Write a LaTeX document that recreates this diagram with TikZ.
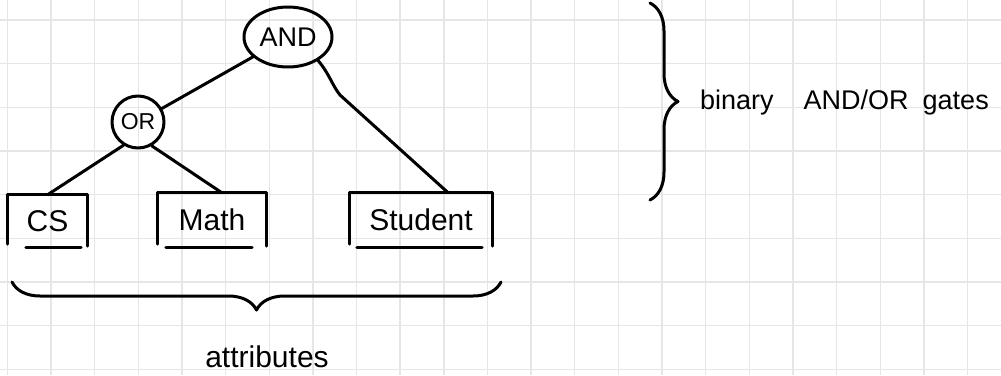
\documentclass[tikz,border=0pt]{standalone}
\usepackage{fontspec}
\setmainfont{Liberation Sans}
\usetikzlibrary{decorations.pathreplacing,calc,shapes.geometric}
\definecolor{gridgray}{HTML}{E6E6E6}
\begin{document}
\begin{tikzpicture}[x=1pt,y=-1pt,
  ink/.style={line width=3pt,line cap=round,line join=round,draw=black},
  gridline/.style={draw=gridgray,line width=1.4pt},
  gateE/.style={ink,ellipse,inner sep=0pt},
  gateC/.style={ink,circle,inner sep=0pt},
  attr/.style={rectangle,inner sep=0pt,font=\fontsize{30}{30}\selectfont},
  lbl/.style={inner sep=0pt,font=\fontsize{30}{30}\selectfont},
  handbrace/.style={ink,decorate,decoration={brace,amplitude=#1}}
]
\fill[white] (0,0) rectangle (1001,375);
\useasboundingbox (0,0) rectangle (1001,375);
% grid
\foreach \k in {0,...,22} \draw[gridline] ({7.3+43.65*\k},0) -- ({7.3+43.65*\k},375);
\foreach \k in {0,...,8} \draw[gridline] (0,{20+43.65*\k}) -- (1001,{20+43.65*\k});

% gates
\node[gateE,minimum width=88,minimum height=60,font=\fontsize{27}{27}\selectfont] (and) at (288,37) {AND};
\node[gateC,minimum size=52,font=\fontsize{23}{23}\selectfont] (or) at (138,122) {OR};

% attributes
\node[attr,minimum width=79,minimum height=52] (cs) at (47.5,221) {CS};
\node[attr,minimum width=108,minimum height=54] (math) at (212,220) {Math};
\node[attr,minimum width=142,minimum height=54] (student) at (421,220) {Student};
\foreach \n/\l/\r in {cs/18/6,math/8/14,student/7/10}{
  \draw[ink] ($(\n.south west)+(0,-3)$) -- (\n.north west) -- (\n.north east) -- ($(\n.south east)+(0,-1)$);
  \draw[ink] ($(\n.south west)+(\l,0)$) -- ($(\n.south east)+(-\r,0)$);
}

% connectors
\draw[ink] (and) -- (or);
\draw[ink] (and.-38) .. controls (330,75) and (332,85) .. (340,95) -- (student.45);
\draw[ink] (or.238) -- (cs.north);
\draw[ink] (or.-60) -- (math.70);

% braces
\coordinate (bbR) at (501,282);
\coordinate (bbL) at (12,282);
\draw[handbrace=28] (bbR) -- (bbL);
\coordinate (rbT) at (650,3);
\coordinate (rbB) at (650,200);
\draw[handbrace=28] (rbT) -- (rbB);

% labels
\node[lbl,anchor=base] (attrlbl) at (267,367) {attributes};
\node[lbl,anchor=base west,font=\fontsize{27}{27}\selectfont] (gateslbl) at (700,109) {binary\hspace{30pt}AND/OR\hspace{14pt}gates};
\end{tikzpicture}
\end{document}
